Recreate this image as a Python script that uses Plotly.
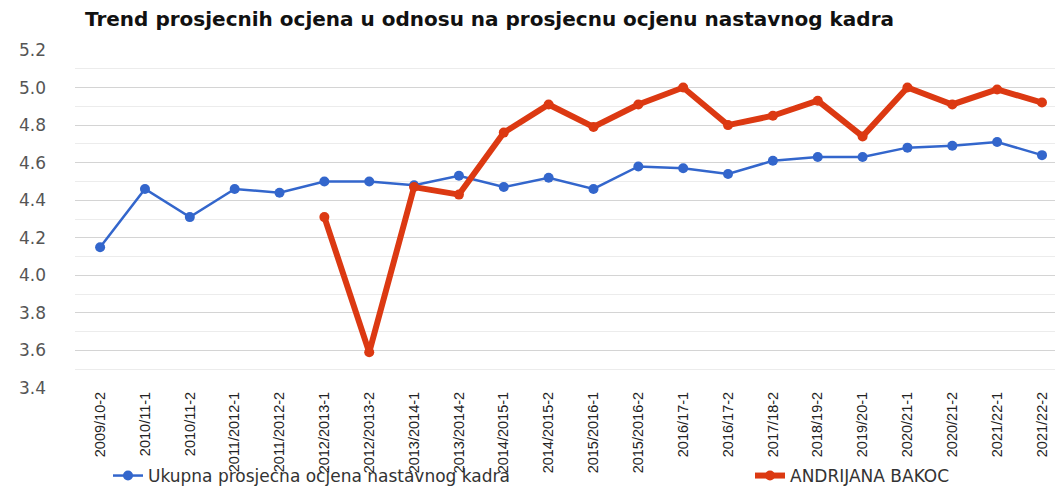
import plotly.graph_objects as go

categories = ["2009/10-2", "2010/11-1", "2010/11-2", "2011/2012-1", "2011/2012-2",
              "2012/2013-1", "2012/2013-2", "2013/2014-1", "2013/2014-2", "2014/2015-1",
              "2014/2015-2", "2015/2016-1", "2015/2016-2", "2016/17-1", "2016/17-2",
              "2017/18-2", "2018/19-2", "2019/20-1", "2020/21-1", "2020/21-2",
              "2021/22-1", "2021/22-2"]

ukupna = [4.15, 4.46, 4.31, 4.46, 4.44, 4.50, 4.50, 4.48, 4.53, 4.47,
          4.52, 4.46, 4.58, 4.57, 4.54, 4.61, 4.63, 4.63, 4.68, 4.69,
          4.71, 4.64]

andrijana = [None, None, None, None, None, 4.31, 3.59, 4.47, 4.43, 4.76,
             4.91, 4.79, 4.91, 5.00, 4.80, 4.85, 4.93, 4.74, 5.00, 4.91,
             4.99, 4.92]

y_ticks = [3.4, 3.6, 3.8, 4.0, 4.2, 4.4, 4.6, 4.8, 5.0, 5.2]

BLUE = "#3366cc"
RED = "#dc3912"

fig = go.Figure()
fig.add_trace(go.Scatter(
    x=categories, y=ukupna, mode="lines+markers",
    name="Ukupna prosjecna ocjena nastavnog kadra",
    line=dict(color=BLUE, width=2.5),
    marker=dict(color=BLUE, size=10),
    legend="legend",
))
fig.add_trace(go.Scatter(
    x=categories, y=andrijana, mode="lines+markers",
    name="ANDRIJANA BAKOC",
    line=dict(color=RED, width=6),
    marker=dict(color=RED, size=10),
    connectgaps=False,
    legend="legend2",
))

fig.update_layout(
    width=1055, height=487,
    margin=dict(l=75, r=0, t=50, b=99, autoexpand=False),
    paper_bgcolor="white", plot_bgcolor="white",
    title=dict(
        text="<b>Trend prosjecnih ocjena u odnosu na prosjecnu ocjenu nastavnog kadra</b>",
        x=85 / 1055, xanchor="left", y=1 - 19 / 487, yanchor="middle",
        font=dict(family="DejaVu Sans", size=20, color="#111111"),
    ),
    xaxis=dict(
        type="category", range=[-0.56, 21.29], automargin=False,
        tickangle=-90, showgrid=False, zeroline=False, showline=False,
        ticks="", tickfont=dict(family="Liberation Sans", size=14.5, color="#222222"),
    ),
    yaxis=dict(
        range=[3.4, 5.2], tickvals=y_ticks, ticktext=[f"{v:.1f}" for v in y_ticks],
        automargin=False,
        showgrid=True, gridcolor="#d4d4d4", gridwidth=1,
        minor=dict(dtick=0.1, showgrid=True, gridcolor="#ececec", gridwidth=1),
        zeroline=False, showline=False, ticks="",
        tickfont=dict(family="DejaVu Sans", size=17, color="#555555"),
        ticklabelstandoff=28,
    ),
    legend=dict(
        orientation="h", x=(108 - 75) / 980, xanchor="left",
        y=(388 - 476) / 338, yanchor="middle",
        font=dict(family="DejaVu Sans", size=17, color="#333333"),
        bgcolor="rgba(0,0,0,0)",
    ),
    legend2=dict(
        orientation="h", x=(750 - 75) / 980, xanchor="left",
        y=(388 - 476) / 338, yanchor="middle",
        font=dict(family="DejaVu Sans", size=17, color="#333333"),
        bgcolor="rgba(0,0,0,0)",
    ),
    showlegend=True,
)

fig.write_html("out.html", config={"displayModeBar": False},
               post_script="document.body.style.margin='0px';")
